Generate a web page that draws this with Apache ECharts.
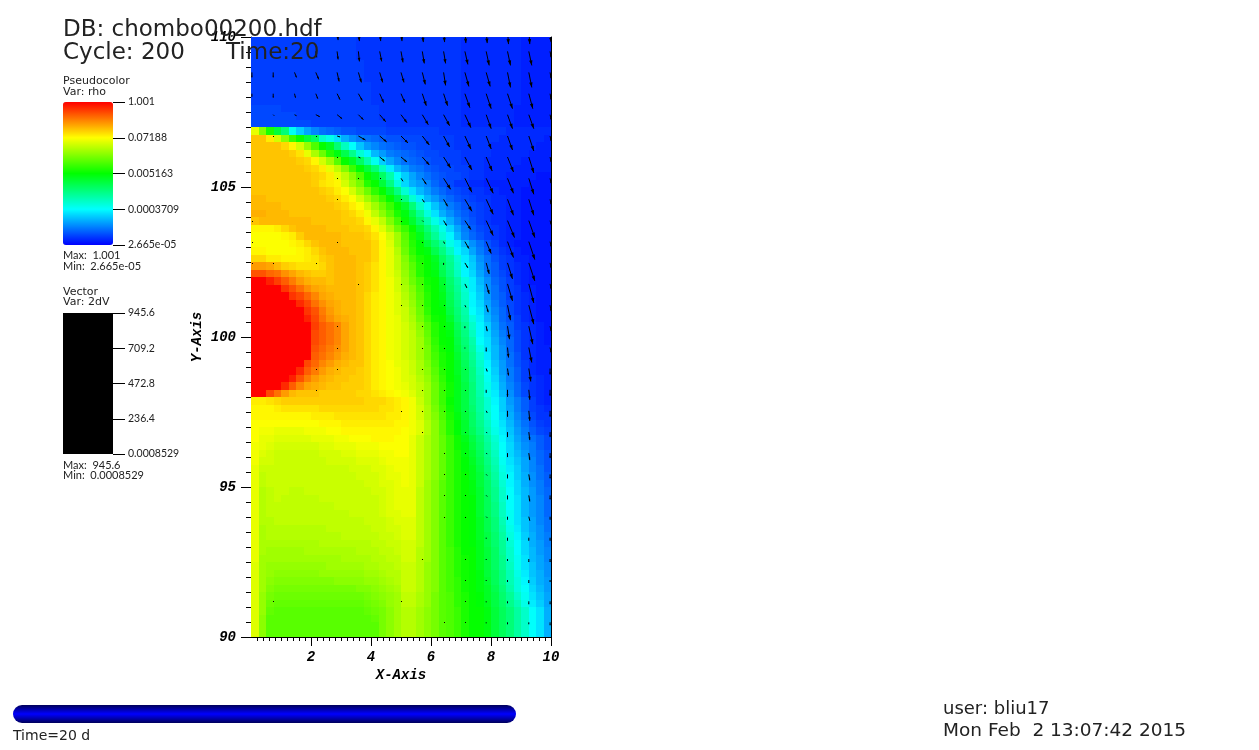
<!DOCTYPE html>
<html><head><meta charset="utf-8">
<script src="https://cdn.jsdelivr.net/npm/echarts@6/dist/echarts.min.js"></script>
<style>html,body{margin:0;padding:0;background:#fff}#c{width:1259px;height:750px}</style>
</head><body><div id="c"></div>
<script>
// colour position of rho on the log colour bar: 0 blue, 25 cyan, 50 green, 75 yellow, 99 red. Top row first.
const rhoLevelRows = [
[6,6,6,6,6,6,6,6,6,6,6,6,6,6,5,5,5,5,5,5,5,5,5,5,5,5,5,5,4,4,4,4,4,4,4,4,3,3,3,3],
[6,6,6,6,6,6,6,6,6,6,6,6,6,6,5,5,5,5,5,5,5,5,5,5,5,5,5,5,4,4,4,4,4,4,4,4,3,3,3,3],
[6,6,6,6,6,6,6,6,6,6,6,6,6,6,5,5,5,5,5,5,5,5,5,5,5,5,5,5,4,4,4,4,4,4,4,4,3,3,3,3],
[6,6,6,6,6,6,6,6,6,6,6,6,6,6,6,5,5,5,5,5,5,5,5,5,5,5,5,5,4,4,4,4,4,4,4,4,3,3,3,3],
[6,6,6,6,6,6,6,6,6,6,6,6,6,6,6,5,5,5,5,5,5,5,5,5,5,5,5,5,4,4,4,4,4,4,4,4,3,3,3,3],
[6,6,6,6,6,6,6,6,6,6,6,6,6,6,6,5,5,5,5,5,5,5,5,5,5,5,5,5,4,4,4,4,4,4,4,4,3,3,3,3],
[6,6,6,6,6,6,6,6,6,6,6,6,6,6,6,6,5,5,5,5,5,5,5,5,5,5,5,5,4,4,4,4,4,4,4,4,3,3,3,3],
[6,6,6,6,6,6,6,6,6,6,6,6,6,6,6,6,5,5,5,5,5,5,5,5,5,5,5,5,4,4,4,4,4,4,4,4,3,3,3,3],
[6,6,6,6,6,6,6,6,6,6,6,6,6,6,6,6,5,5,5,5,5,5,5,5,5,5,5,5,4,4,4,4,4,4,4,4,3,3,3,3],
[7,7,7,7,6,6,6,6,6,6,6,6,6,6,6,6,6,5,5,5,5,5,5,5,5,5,5,5,4,4,4,4,4,4,4,3,3,3,3,3],
[7,7,7,7,7,7,6,6,6,6,6,6,6,6,6,6,6,5,5,5,5,5,5,5,5,5,5,5,4,4,4,4,4,4,4,3,3,3,3,3],
[7,7,7,7,7,7,7,7,6,6,6,6,6,6,6,6,6,6,5,5,5,5,5,5,5,5,5,5,4,4,4,4,4,4,4,3,3,3,3,3],
[72,62,52,44,38,26,20,16,13,11,10,9,8,8,7,7,7,7,6,6,6,6,6,6,6,5,5,5,5,5,5,5,5,5,4,4,4,4,4,4],
[80,80,76,70,63,55,50,44,40,30,27,22,17,14,12,11,10,9,8,8,7,7,7,6,6,6,6,5,5,5,5,5,5,4,4,4,4,4,4,3],
[80,80,80,80,78,75,70,64,57,50,46,38,31,25,19,15,13,11,10,9,8,8,7,7,6,6,6,5,5,5,5,5,4,4,4,4,4,4,3,3],
[80,80,80,80,80,79,77,72,66,60,53,48,42,36,29,24,18,15,12,11,10,9,8,7,7,6,6,6,5,5,5,5,4,4,4,4,4,3,3,3],
[80,80,80,80,80,80,79,78,75,70,65,58,50,46,40,33,26,20,16,13,11,10,9,8,7,7,6,6,5,5,5,4,4,4,4,4,3,3,3,3],
[80,80,80,80,80,80,80,79,78,76,72,68,62,55,49,44,38,31,23,18,15,12,11,9,8,7,7,6,6,5,5,4,4,4,4,3,3,3,3,3],
[80,80,80,80,80,80,80,80,79,78,76,72,68,63,57,50,46,40,33,25,20,16,13,11,9,8,7,7,6,5,5,4,4,4,3,3,3,3,2,2],
[80,80,80,80,80,80,80,80,79,77,76,75,70,65,61,53,50,44,37,28,21,17,15,13,10,8,7,5,5,4,4,3,3,3,3,3,3,2,2,2],
[80,80,80,80,80,80,80,80,80,79,78,76,74,70,65,60,54,50,44,37,29,22,18,15,12,10,8,7,6,5,5,4,4,3,3,3,2,2,2,2],
[81,81,80,80,80,80,80,80,80,80,79,78,76,74,70,65,60,55,50,44,37,29,23,18,15,12,10,8,7,6,5,5,4,4,3,3,2,2,2,2],
[81,81,81,81,80,80,80,80,80,80,80,79,78,76,74,70,65,60,55,50,45,38,30,24,19,15,12,10,8,7,6,5,4,4,3,3,2,2,2,2],
[82,82,81,81,81,80,80,80,80,80,80,80,79,78,76,73,68,63,58,52,48,42,35,28,22,17,14,11,9,7,6,5,4,4,3,3,2,2,2,2],
[80,81,81,81,81,81,81,81,80,80,80,80,79,79,78,75,72,68,62,56,50,45,39,33,27,22,17,13,10,8,6,5,4,4,3,3,2,2,2,2],
[75,75,75,76,78,80,81,81,81,81,80,80,80,79,79,78,75,71,66,60,55,50,44,38,32,27,21,16,12,9,7,6,5,4,3,3,2,2,2,2],
[74,74,74,74,75,76,79,81,81,81,81,81,80,80,80,79,77,74,70,65,58,52,47,41,35,29,24,18,13,10,8,6,5,4,3,3,2,2,2,2],
[74,74,74,74,74,75,76,78,80,81,81,81,80,80,80,80,78,75,71,65,59,53,49,44,39,34,27,23,18,14,11,8,6,4,3,2,2,2,2,2],
[75,75,74,74,74,74,75,76,78,80,81,81,81,80,80,80,78,75,72,67,60,54,50,48,42,37,31,24,21,16,12,9,7,5,4,3,2,2,2,2],
[78,78,76,76,75,75,75,76,77,79,80,81,81,81,80,80,78,75,72,68,62,56,52,50,46,40,35,29,23,19,14,11,8,6,5,3,3,2,2,2],
[84,84,83,81,79,78,77,77,77,78,80,81,81,81,80,79,77,75,72,68,63,58,53,50,47,41,36,30,24,20,15,11,9,6,5,4,3,2,2,2],
[91,91,89,88,85,83,81,80,79,79,80,81,81,81,80,79,77,75,72,69,64,59,53,50,48,42,37,31,24,21,16,12,9,7,5,4,3,2,2,2],
[99,99,96,93,90,87,84,82,81,81,80,81,81,81,80,79,77,75,73,70,65,60,56,51,50,45,39,34,28,23,18,14,10,8,6,4,3,2,2,2],
[99,99,99,99,94,91,88,85,83,82,81,81,81,81,80,79,77,75,73,70,66,62,57,52,50,46,40,35,29,23,19,14,11,8,6,5,3,3,2,2],
[99,99,99,99,99,94,92,89,86,83,82,81,81,81,80,78,76,75,73,71,67,63,58,53,50,47,41,36,30,24,20,15,11,9,6,5,4,3,2,2],
[99,99,99,99,99,99,95,92,88,85,83,82,81,81,80,78,76,75,73,71,68,64,59,53,50,48,42,37,31,24,21,16,12,9,7,5,4,3,2,2],
[99,99,99,99,99,99,99,94,91,87,84,82,81,81,80,78,76,75,73,71,69,65,60,54,50,49,43,38,33,25,22,17,13,10,7,5,4,3,2,2],
[99,99,99,99,99,99,99,96,92,88,85,83,82,81,80,78,76,75,73,72,69,66,61,56,51,50,45,39,34,28,23,18,14,10,8,6,4,3,2,2],
[99,99,99,99,99,99,99,99,93,90,88,86,83,81,80,78,76,75,73,72,70,67,63,58,53,50,47,41,36,30,24,20,15,11,9,6,5,4,3,2],
[99,99,99,99,99,99,99,99,92,90,88,86,83,81,80,78,76,75,73,72,70,68,64,59,53,50,48,42,37,31,24,21,16,12,9,7,5,4,3,2],
[99,99,99,99,99,99,99,99,92,90,88,86,83,81,80,78,76,75,73,72,70,68,65,60,54,50,49,43,38,33,25,22,17,13,10,7,5,4,3,2],
[99,99,99,99,99,99,99,99,91,89,87,85,83,81,80,78,76,75,73,72,70,68,65,61,55,51,49,44,39,34,27,22,18,14,10,7,5,4,3,3],
[99,99,99,99,99,99,99,99,90,88,86,84,82,81,80,78,76,75,73,72,70,68,65,61,56,52,50,45,40,35,29,23,18,14,11,8,5,4,3,3],
[99,99,99,99,99,99,99,92,89,86,84,82,81,80,80,78,76,75,74,72,71,69,66,62,57,52,50,46,41,36,30,24,19,15,11,8,6,4,3,3],
[99,99,99,99,99,99,95,90,87,84,82,81,80,80,79,78,76,75,74,73,71,69,66,63,58,53,50,46,42,37,31,25,20,15,12,9,6,4,3,3],
[99,99,99,99,99,96,91,87,84,82,81,80,80,79,79,78,76,75,74,73,71,70,67,64,59,54,50,47,42,37,32,26,21,16,12,9,6,5,4,3],
[99,99,99,99,95,90,86,83,82,81,80,80,79,79,79,78,76,75,74,73,72,70,68,65,60,55,51,47,43,38,32,27,22,17,13,10,7,5,4,3],
[99,99,92,88,84,81,80,80,80,79,79,79,79,79,78,78,77,76,75,74,73,71,68,65,60,55,51,47,43,38,33,27,23,18,14,10,7,5,4,3],
[76,76,77,78,79,79,79,79,79,79,79,79,79,79,79,78,78,78,77,76,75,73,69,65,60,55,50,47,43,38,34,29,24,20,15,12,9,6,4,3],
[75,75,75,76,77,77,77,77,77,78,78,78,78,78,78,78,78,77,77,76,75,73,70,66,61,56,51,47,43,39,34,29,25,20,16,12,9,6,5,4],
[75,75,75,75,75,75,75,75,76,76,76,77,77,77,77,77,77,77,76,76,75,73,70,66,62,57,52,48,44,40,35,30,25,21,17,13,10,7,5,5],
[74,74,74,74,74,74,74,74,74,75,75,75,76,76,76,76,76,76,76,75,75,73,71,67,63,58,53,49,45,40,36,31,26,22,18,14,11,8,6,5],
[74,73,73,72,72,72,72,73,73,73,74,74,75,75,75,75,75,75,75,75,74,73,71,67,63,58,53,49,45,41,37,32,27,23,19,15,12,9,7,6],
[74,72,72,71,71,71,71,71,72,72,72,73,73,74,74,74,75,75,75,74,74,72,69,66,63,59,55,51,47,43,39,34,29,24,20,16,13,11,9,7],
[73,72,71,70,70,70,70,70,70,71,71,72,72,72,73,73,73,74,74,74,74,72,69,66,63,59,55,51,48,44,40,35,30,25,21,17,14,12,9,7],
[73,71,70,69,69,69,69,69,69,70,70,70,71,71,72,72,72,73,73,74,74,72,69,66,63,59,55,52,48,45,41,36,31,25,21,18,15,12,10,8],
[73,70,70,69,69,69,69,69,69,69,70,70,70,70,71,71,71,72,73,73,73,72,69,66,63,59,55,52,49,46,42,37,32,26,22,19,16,13,10,8],
[72,69,69,69,69,69,69,69,69,69,69,69,69,70,70,70,71,71,72,73,73,72,69,66,63,59,55,52,49,47,43,38,33,27,23,20,16,13,11,8],
[72,68,69,69,69,69,69,69,69,69,69,69,69,69,70,70,70,71,72,72,73,72,69,66,63,59,55,52,50,47,44,39,34,28,24,20,17,14,11,9],
[72,68,69,69,69,69,69,69,69,69,69,69,69,69,69,70,70,71,71,72,73,72,69,65,62,58,55,52,50,48,44,40,35,29,24,21,17,14,12,9],
[72,67,68,69,69,68,68,69,69,69,69,69,69,69,69,69,70,70,71,72,72,72,68,65,62,58,55,52,50,48,45,40,36,30,25,21,18,15,12,10],
[72,67,68,69,68,68,68,68,68,69,69,69,69,69,69,69,69,70,71,72,72,72,68,65,62,58,55,52,50,49,45,41,36,30,25,22,18,15,13,10],
[72,67,68,68,68,68,68,68,68,68,68,69,69,69,69,69,69,70,71,72,72,72,68,65,62,58,55,52,50,49,45,41,37,31,25,22,18,15,13,10],
[72,67,68,68,68,68,68,68,68,68,68,68,68,69,69,69,69,70,71,71,72,72,68,65,62,58,55,52,50,49,45,41,37,31,26,22,18,15,13,10],
[72,67,67,68,68,68,68,68,68,68,68,68,68,68,68,69,69,69,70,71,71,71,68,65,62,58,55,52,50,49,46,42,38,32,26,22,19,16,13,11],
[72,66,67,67,67,67,67,67,67,67,68,68,68,68,68,68,69,69,70,70,71,71,68,65,62,58,55,52,50,49,46,42,38,33,27,23,19,16,14,11],
[72,66,67,67,67,67,67,67,67,67,67,67,68,68,68,68,68,69,69,70,71,71,68,65,62,58,55,52,50,49,46,43,39,34,28,24,20,17,14,12],
[72,66,66,66,66,66,66,66,66,67,67,67,67,67,67,67,68,68,69,69,70,70,68,65,62,58,55,52,50,49,47,43,39,35,29,25,21,17,15,12],
[72,66,65,65,65,65,65,66,66,66,66,66,66,66,67,67,67,68,68,69,70,70,67,65,62,58,56,53,50,50,47,44,40,35,30,25,21,18,15,13],
[72,65,65,65,65,65,65,65,65,65,65,65,66,66,66,66,67,67,68,68,70,70,67,65,62,58,56,53,51,50,47,44,40,36,30,26,22,18,16,13],
[71,65,64,64,64,64,64,64,64,64,65,65,65,65,65,66,66,67,67,68,69,69,67,64,62,58,56,53,51,50,47,44,40,36,31,26,22,19,16,14],
[71,65,64,63,63,63,63,63,63,64,64,64,64,64,64,65,65,66,67,67,69,69,67,64,62,58,56,53,51,50,48,44,41,37,32,27,23,19,17,14],
[71,65,63,62,62,62,62,62,62,62,62,63,63,63,63,64,64,65,66,67,69,69,67,64,62,58,56,54,51,50,48,45,41,37,32,28,24,20,17,15],
[71,65,62,61,61,61,61,61,61,61,61,61,61,61,62,62,63,64,65,66,69,69,67,64,62,58,56,54,51,50,48,46,42,38,33,28,25,21,18,15],
[71,64,61,60,60,60,60,60,60,60,60,60,60,60,60,61,62,63,64,65,68,68,66,64,61,58,57,54,52,50,49,46,43,39,35,30,26,22,19,16],
[71,64,60,59,59,59,59,59,59,59,59,59,59,59,59,60,61,62,64,65,68,68,66,64,61,58,57,54,52,50,49,47,43,40,36,32,27,23,20,16],
[71,64,59,58,58,58,58,58,58,58,58,58,58,58,58,59,60,61,63,65,67,67,65,63,61,58,57,55,52,50,50,48,44,41,38,34,30,25,22,17],
[71,63,58,58,58,58,58,58,58,58,58,58,58,58,58,58,59,61,63,65,67,67,65,63,61,58,57,55,52,50,50,48,44,41,38,34,30,25,22,17],
[71,63,58,58,58,58,58,58,58,58,58,58,58,58,58,58,58,61,63,65,67,67,65,63,61,58,57,55,52,50,50,48,44,41,38,34,30,25,22,17],
[71,63,58,58,58,58,58,58,58,58,58,58,58,58,58,58,58,61,63,65,67,67,65,63,61,58,57,55,52,50,50,48,44,41,38,34,30,25,22,17]
];
const levelStops = ['#0000ff','#00ffff','#00ff00','#ffff00','#ff0000'];

// vector glyph tails (data units) and glyph components; _ = no glyph drawn there
const _ = null;
const arrowXs = [0.03,0.74,1.45,2.16,2.87,3.58,4.29,5.00,5.71,6.42,7.13,7.84,8.55,9.26,9.97];
const arrowYs = [110.23,109.52,108.82,108.11,107.41,106.70,106.00,105.29,104.59,103.88,103.18,102.47,101.77,101.06,100.36,99.65,98.95,98.24,97.54,96.83,96.13,95.42,94.72,94.01,93.31,92.60,91.90,91.19,90.49];
const arrowU = [
[_,_,_,_,1,1,1,1,1,1,1,1,1,1,1],
[_,_,_,1,1,1,2,2,2,2,3,3,3,3,1],
[0,0,2,3,2,3,3,3,3,2,4,4,3,3,1],
[0,0,1,2,3,4,4,4,4,4,5,5,5,4,1],
[_,1,2,4,5,5,6,6,6,6,6,5,5,5,1],
[_,0,_,0,3,7,7,7,7,6,6,5,5,5,1],
[_,_,_,_,0,2,5,6,7,7,7,6,6,5,1],
[_,_,_,_,0,0,0,2,4,7,7,7,6,5,1],
[_,_,_,_,0,_,_,0,2,4,7,7,6,5,1],
[0,_,_,_,_,_,_,0,1,3,6,7,7,6,1],
[0,_,_,_,0,_,_,_,0,1,4,5,6,6,1],
[0,0,_,0,_,_,_,_,0,0,3,3,5,6,1],
[_,_,_,_,_,0,_,0,0,0,2,3,5,5,1],
[_,_,_,_,_,_,_,0,0,0,1,2,3,5,1],
[_,_,_,_,0,_,_,_,0,0,0,1,2,4,1],
[_,_,_,_,0,_,_,_,0,0,0,0,1,3,1],
[_,_,_,0,0,_,_,_,0,0,0,1,1,2,0],
[_,_,_,0,_,_,_,_,0,0,0,0,0,1,0],
[_,_,_,_,_,_,_,0,0,0,0,1,0,1,0],
[_,_,_,_,_,_,_,_,0,_,0,1,0,1,0],
[_,_,_,_,_,_,_,_,_,0,0,1,0,1,0],
[_,_,_,_,_,_,_,_,_,0,0,1,0,1,0],
[_,_,_,_,_,_,_,_,_,0,0,1,0,1,0],
[_,_,_,_,_,_,_,_,_,0,0,1,0,1,0],
[_,_,_,_,_,_,_,_,_,_,_,0,0,0,0],
[_,_,_,_,_,_,_,_,0,_,0,0,0,0,0],
[_,_,_,_,_,_,_,_,_,_,0,0,0,0,0],
[_,0,_,_,_,_,_,0,_,_,0,0,0,0,0],
[_,_,_,_,_,_,_,_,_,0,0,0,0,0,0]
];
const arrowV = [
[_,_,_,_,10,11,11,11,12,12,13,13,14,14,12],
[_,_,_,6,8,10,10,11,12,12,13,14,14,14,6],
[5,5,5,7,9,10,10,10,12,13,14,14,15,15,6],
[3,4,4,5,6,7,9,9,12,12,14,15,15,15,6],
[_,1,1,2,4,5,7,8,10,11,13,14,14,14,5],
[_,0,_,0,1,4,6,7,9,11,13,13,14,15,5],
[_,_,_,_,0,1,4,5,8,11,13,14,15,16,5],
[_,_,_,_,0,0,0,3,6,11,14,15,15,16,5],
[_,_,_,_,0,_,_,0,3,7,12,15,16,16,5],
[0,_,_,_,_,_,_,0,1,5,9,15,17,17,4],
[0,_,_,_,0,_,_,_,0,2,7,12,16,18,5],
[0,0,_,0,_,_,_,_,0,2,5,11,16,18,5],
[_,_,_,_,_,0,_,0,0,0,4,10,17,19,5],
[_,_,_,_,_,_,_,0,0,0,2,7,15,19,6],
[_,_,_,_,0,_,_,_,0,0,2,5,13,18,5],
[_,_,_,_,0,_,_,_,0,0,1,4,10,15,5],
[_,_,_,0,0,_,_,_,0,0,0,3,7,13,6],
[_,_,_,0,_,_,_,_,0,0,0,3,7,10,6],
[_,_,_,_,_,_,_,0,0,0,0,2,6,10,6],
[_,_,_,_,_,_,_,_,0,_,0,1,5,8,5],
[_,_,_,_,_,_,_,_,_,0,0,1,4,7,5],
[_,_,_,_,_,_,_,_,_,0,0,1,4,6,4],
[_,_,_,_,_,_,_,_,_,0,0,1,4,6,4],
[_,_,_,_,_,_,_,_,_,0,0,1,3,4,3],
[_,_,_,_,_,_,_,_,_,_,_,1,3,3,3],
[_,_,_,_,_,_,_,_,0,_,0,1,2,3,3],
[_,_,_,_,_,_,_,_,_,_,0,1,2,3,2],
[_,0,_,_,_,_,_,0,_,_,0,1,2,3,3],
[_,_,_,_,_,_,_,_,_,0,0,1,2,2,3]
];

const xTickValues = [2,4,6,8,10];
const yTickValues = [90,95,100,105,110];
const rhoBarLabels = ['2.665e-05','0.0003709','0.005163','0.07188','1.001'];
const vecBarLabels = ['0.0008529','236.4','472.8','709.2','945.6'];
const LATO = 'Lato, sans-serif';
const DEJAVU = '"DejaVu Sans", sans-serif';
const MONOF = '"Liberation Mono", monospace';
const textItems = [
  ['DB: chombo00200.hdf',63,30,23,DEJAVU],['Cycle: 200',63,53,23,DEJAVU],['Time:20',226,53,23,DEJAVU],
  ['Pseudocolor',63,81,11,DEJAVU],['Var: rho',63,92,11,DEJAVU],['Max:  1.001',63,255,11,LATO],['Min:  2.665e-05',63,266,11,LATO],
  ['Vector',63,292,11,DEJAVU],['Var: 2dV',63,302,11,DEJAVU],['Max:  945.6',63,465,11,LATO],['Min:  0.0008529',63,475,11,LATO],
  ['Time=20 d',13,736,14,DEJAVU],['user: bliu17',943,709,18,DEJAVU],['Mon Feb  2 13:07:42 2015',943,731,18.5,DEJAVU]
];

const cellData = [];
rhoLevelRows.forEach((row,r)=>row.forEach((v,c)=>cellData.push([c,r,v])));
const arrowData = [];
arrowYs.forEach((y,k)=>arrowXs.forEach((x,i)=>{
  if(arrowV[k][i]!==_) arrowData.push([x,y,arrowU[k][i],arrowV[k][i]]);
}));

function renderCell(params,api){
  const p = api.coord([api.value(0),api.value(1)]);
  const s = api.size([1,1]);
  const e = 0.01;
  const x0=Math.round(p[0]-s[0]/2+e), x1=Math.round(p[0]+s[0]/2+e), y0=Math.round(p[1]-s[1]/2+e), y1=Math.round(p[1]+s[1]/2+e);
  return {type:'rect',shape:{x:x0,y:y0,width:x1-x0,height:y1-y0},style:{fill:api.visual('color')}};
}
function renderArrow(params,api){
  const p = api.coord([api.value(0),api.value(1)]);
  const u = api.value(2), v = api.value(3), L = Math.hypot(u,v);
  if(L===0) return {type:'rect',shape:{x:Math.round(p[0]),y:Math.round(p[1]),width:1,height:1},style:{fill:'#000'}};
  const ex=p[0]+u, ey=p[1]+v, ux=u/L, uy=v/L;
  const hl=Math.min(5,L*0.35), hw=Math.min(1.7,L*0.13);
  return {type:'group',children:[
    {type:'line',shape:{x1:p[0],y1:p[1],x2:ex,y2:ey},style:{stroke:'#000',lineWidth:1}},
    {type:'polygon',shape:{points:[[ex,ey],[ex-ux*hl-uy*hw,ey-uy*hl+ux*hw],[ex-ux*hl+uy*hw,ey-uy*hl-ux*hw]]},style:{fill:'#000'}}
  ]};
}

const cats = n => Array.from({length:n},(_v,i)=>i);
const barAxis = (grid,labels)=>({type:'category',gridIndex:grid,data:labels,boundaryGap:false,position:'right',
  axisLine:{show:false},axisTick:{show:true,length:12,alignWithLabel:true,lineStyle:{color:'#000',width:1}},
  axisLabel:{show:true,margin:15,interval:0,color:'#222',fontFamily:LATO,fontSize:10.5},splitLine:{show:false}});
const edgeAxis = {axisLine:{show:true,onZero:false,lineStyle:{color:'#000',width:1}},axisTick:{show:false},axisLabel:{show:false},splitLine:{show:false}};
const mainAxisBase = {axisLine:{show:true,onZero:false,lineStyle:{color:'#000',width:1}},splitLine:{show:false},minorSplitLine:{show:false}};
const monoLabel = {color:'#000',fontFamily:MONOF,fontStyle:'italic',fontWeight:'bold',fontSize:14};

const graphicText = textItems.map(([t,x,y,s,f])=>({type:'text',z:200,silent:true,x:x,y:y,
  style:{text:t,fill:'#222',font:s+'px '+f,textVerticalAlign:'middle',textAlign:'left'}}));

const option = {
  animation:false,
  backgroundColor:'#fff',
  grid:[
    {left:251,top:37,width:300,height:600,show:false},
    {left:63,top:102,width:50,height:143,show:false},
    {left:63,top:313,width:50,height:141,show:true,backgroundColor:'#000',borderWidth:0}
  ],
  xAxis:[
    Object.assign({},edgeAxis,{type:'category',gridIndex:0,data:cats(40),position:'top'}),
    Object.assign({},mainAxisBase,{type:'value',gridIndex:0,min:0,max:10,interval:2,position:'bottom',
      name:'X-Axis',nameLocation:'middle',nameGap:31,nameTextStyle:monoLabel,
      axisTick:{show:true,length:9,customValues:xTickValues,lineStyle:{color:'#000'}},
      minorTick:{show:true,splitNumber:10,length:4,lineStyle:{color:'#000'}},
      axisLabel:Object.assign({},monoLabel,{customValues:xTickValues,margin:13})}),
    {type:'category',gridIndex:1,data:['a'],show:false},
    {type:'category',gridIndex:2,data:['a'],show:false}
  ],
  yAxis:[
    Object.assign({},edgeAxis,{type:'category',gridIndex:0,data:cats(80),inverse:true,position:'right'}),
    Object.assign({},mainAxisBase,{type:'value',gridIndex:0,min:90,max:110,interval:5,position:'left',
      name:'Y-Axis',nameLocation:'middle',nameGap:47,nameRotate:90,nameTextStyle:monoLabel,
      axisTick:{show:true,length:10,customValues:yTickValues,lineStyle:{color:'#000'}},
      minorTick:{show:true,splitNumber:10,length:5,lineStyle:{color:'#000'}},
      axisLabel:Object.assign({},monoLabel,{customValues:yTickValues,margin:15})}),
    barAxis(1,rhoBarLabels),
    barAxis(2,vecBarLabels)
  ],
  visualMap:{type:'continuous',seriesIndex:0,min:0,max:99,dimension:2,show:true,left:63,top:102,itemWidth:50,itemHeight:143,
    calculable:false,hoverLink:false,showLabel:false,text:null,padding:0,borderWidth:0,inRange:{color:levelStops}},
  series:[
    {type:'custom',xAxisIndex:0,yAxisIndex:0,data:cellData,renderItem:renderCell,silent:true,z:1,progressive:0,encode:{x:0,y:1}},
    {type:'custom',xAxisIndex:1,yAxisIndex:1,data:arrowData,renderItem:renderArrow,clip:true,silent:true,z:10,progressive:0,encode:{x:0,y:1}}
  ],
  graphic:{elements:[
    {type:'rect',z:150,silent:true,shape:{x:13,y:705,width:503,height:18,r:9},
     style:{fill:{type:'linear',x:0,y:0,x2:0,y2:1,colorStops:[{offset:0,color:'#00005a'},{offset:0.5,color:'#0000ff'},{offset:1,color:'#00005a'}]}}}
  ].concat(graphicText)}
};
const chart = echarts.init(document.getElementById('c'),null,{renderer:'canvas'});
chart.setOption(option);
</script></body></html>
